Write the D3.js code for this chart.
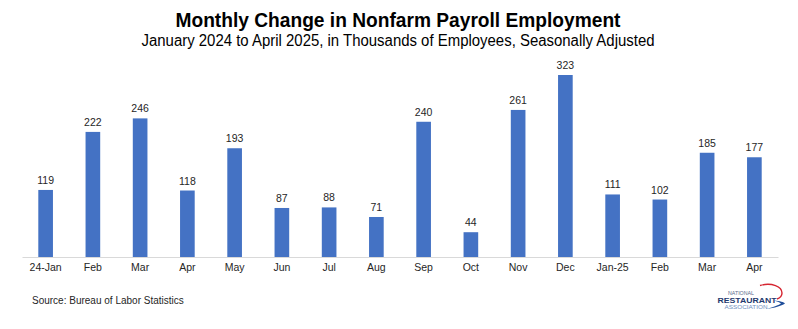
<!DOCTYPE html>
<html><head><meta charset="utf-8">
<script src="https://cdn.jsdelivr.net/npm/d3@7/dist/d3.min.js"></script>
<style>body{margin:0;background:#fff}svg{display:block}</style>
</head><body><svg id="c" width="798" height="329"></svg>
<script>
const categories = ["24-Jan","Feb","Mar","Apr","May","Jun","Jul","Aug","Sep","Oct","Nov","Dec","Jan-25","Feb","Mar","Apr"];
const values = [119,222,246,118,193,87,88,71,240,44,261,323,111,102,185,177];
const title = "Monthly Change in Nonfarm Payroll Employment";
const subtitle = "January  2024 to April 2025, in Thousands of Employees, Seasonally Adjusted";
const source = "Source: Bureau of Labor Statistics";

const svg = d3.select("#c");
const font = "'Liberation Sans Narrow', 'Liberation Sans', Arial, sans-serif";
const x = d3.scaleBand().domain(d3.range(categories.length)).range([22, 778]).paddingInner(0.69).paddingOuter(0.345);
const y = d3.scaleLinear().domain([0, 323]).range([257, 75]);

svg.append("text").attr("x", 398).attr("y", 27).attr("text-anchor","middle")
  .attr("font-family", font).attr("font-weight","bold").attr("font-size", 21).attr("fill","#000")
  .attr("textLength", 445).attr("lengthAdjust","spacingAndGlyphs").text(title);
svg.append("text").attr("x", 398).attr("y", 46).attr("text-anchor","middle")
  .attr("font-family", font).attr("font-size", 16).attr("fill","#000")
  .attr("textLength", 513).attr("lengthAdjust","spacingAndGlyphs").text(subtitle);

svg.selectAll("rect.bar").data(values).join("rect").attr("class","bar")
  .attr("x",(d,i)=>x(i)).attr("width", x.bandwidth())
  .attr("y", d=>y(d)).attr("height", d=>y(0)-y(d)).attr("fill","#4472C4");

svg.selectAll("text.val").data(values).join("text").attr("class","val")
  .attr("x",(d,i)=>x(i)+x.bandwidth()/2).attr("y", d=>y(d)-6)
  .attr("text-anchor","middle").attr("font-family","'Liberation Sans', Arial, sans-serif")
  .attr("font-size", 10.5).attr("fill","#262626").text(d=>d);

const xAxis = d3.axisBottom(x).tickFormat(i=>categories[i]).tickSize(0).tickPadding(7);
const gx = svg.append("g").attr("transform","translate(0,257)").call(xAxis);
gx.select(".domain").attr("stroke","#d9d9d9").attr("stroke-width",1);
gx.selectAll("text").attr("font-family","'Liberation Sans', Arial, sans-serif").attr("font-size", 10.5).attr("fill","#262626");

svg.append("text").attr("x", 32).attr("y", 304).attr("font-family","'Liberation Sans', Arial, sans-serif")
  .attr("font-size", 10).attr("fill","#262626").text(source);

// logo
const lg = svg.append("g");
const lf = "'Liberation Sans', Arial, sans-serif";
lg.append("path").attr("d","M760,285.5 C772,282 782,287 782,293 C782,296 780,298 777,299")
  .attr("fill","none").attr("stroke","#d62631").attr("stroke-width",1.4);
lg.append("path").attr("d","M774,300.5 C780,301 784,302 785,303.5 C781,306 775,308 766,309 C774,307 779,305 781,303.5 C779,302 777,301.5 774,300.5 Z")
  .attr("fill","#1f4e9a");
lg.append("text").attr("x",741).attr("y",295).attr("text-anchor","middle").attr("font-family",lf)
  .attr("font-size",4.6).attr("fill","#5a6b8c").attr("textLength",26).attr("lengthAdjust","spacingAndGlyphs").text("NATIONAL");
lg.append("text").attr("x",747).attr("y",302.5).attr("text-anchor","middle").attr("font-family",lf)
  .attr("font-weight","bold").attr("font-size",7).attr("fill","#1f3a6e").attr("textLength",59).attr("lengthAdjust","spacingAndGlyphs").text("RESTAURANT");
lg.append("text").attr("x",746).attr("y",308.5).attr("text-anchor","middle").attr("font-family",lf)
  .attr("font-size",4.6).attr("fill","#6f8fbf").attr("textLength",43).attr("lengthAdjust","spacingAndGlyphs").text("ASSOCIATION");
</script></body></html>
